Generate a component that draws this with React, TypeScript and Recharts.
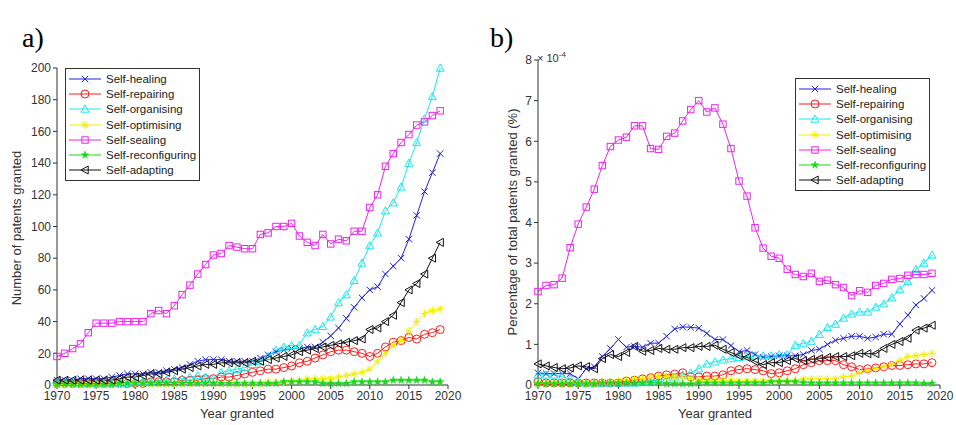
import React from 'react';
import { LineChart, Line, XAxis, YAxis } from 'recharts';

const years = Array.from({ length: 50 }, (_, i) => 1970 + i);
const seriesNames = ['Self-healing', 'Self-repairing', 'Self-organising', 'Self-optimising', 'Self-sealing', 'Self-reconfiguring', 'Self-adapting'];
const colors = ['#1f1fe0', '#ff1a1a', '#16e8f0', '#f0f000', '#ee22ee', '#18d818', '#111111'];
const shapes = ['x', 'o', 'tri', 'ast', 'sq', 'star', 'ltri'];

// Panel a: number of patents granted
const aHealing = [3,3,3,4,4,4,4,5,6,7, 7,7,8,8,9,10,11,13,15,16, 16,16,15,15,15,15,17,19,21,22, 23,23,24,24,27,31,36,42,49,55, 60,62,70,75,80,92,107,122,134,146];
const aRepairing = [1,1,1,1,1,1,1,1,1,1, 1,1,2,2,2,2,3,3,3,4, 4,5,5,6,7,8,9,10,10,11, 12,14,15,17,19,21,22,22,21,20, 18,20,24,27,28,30,29,32,33,35];
const aOrganising = [2,2,2,1,1,1,1,1,1,1, 2,2,2,3,3,4,4,5,6,5, 4,8,9,10,11,13,15,18,22,24, 25,25,33,35,37,43,52,57,66,77, 88,96,110,115,125,140,153,168,182,200];
const aOptimising = [0.5,0.5,0.5,0.5,0.5,0.5,0.5,0.5,0.5,1, 1,1,1,1,1,1,1,1,1,1, 1,1,1,1,1,1,1,2,2,2, 3,3,4,4,4,4,5,6,7,8, 10,15,20,25,28,34,40,45,47,48];
const aSealing = [18,20,23,26,33,39,39,39,40,40, 40,40,45,47,45,50,57,63,70,76, 82,83,88,87,86,86,95,96,100,100, 102,94,90,88,95,89,92,91,97,97, 112,120,138,146,153,158,164,166,170,173];
const aReconf = [0.5,0.5,0.5,0.5,0.5,0.5,0.5,0.5,1,1, 1,1,1,1,1,1,1,1,1,1, 1,1,1,1,1,1,1,1,1,2, 2,2,2,2,1,1,1,1,2,2, 2,2,2,3,3,3,3,3,2,2];
const aAdapting = [3,3,3,3,3,3,3,3,4,5, 5,6,7,7,8,9,10,11,12,13, 13,14,14,14,14,15,15,16,17,18, 19,21,22,23,24,25,26,27,28,29, 35,36,40,44,52,60,64,70,80,90];

// Panel b: percentage of total patents granted (x 1e-4)
const bHealing = [0.3,0.28,0.28,0.28,0.28,0.15,0.4,0.45,0.7,0.9, 1.12,0.93,0.95,0.93,1.03,1.03,1.2,1.38,1.43,1.42, 1.4,1.27,1.12,1.12,0.97,0.82,0.85,0.75,0.68,0.7, 0.72,0.72,0.72,0.75,0.85,0.88,1.0,1.1,1.15,1.2, 1.2,1.15,1.18,1.25,1.25,1.5,1.72,1.97,2.13,2.33];
const bRepairing = [0.08,0.05,0.05,0.05,0.05,0.05,0.05,0.05,0.05,0.05, 0.05,0.1,0.12,0.15,0.18,0.22,0.25,0.27,0.3,0.2, 0.2,0.22,0.22,0.25,0.35,0.38,0.4,0.38,0.35,0.28, 0.3,0.35,0.4,0.5,0.55,0.6,0.6,0.6,0.5,0.45, 0.38,0.4,0.42,0.45,0.48,0.48,0.5,0.52,0.52,0.55];
const bOrganising = [0.25,0.25,0.25,0.2,0.15,0.08,0.05,0.05,0.05,0.05, 0.05,0.05,0.05,0.08,0.1,0.12,0.15,0.2,0.25,0.3, 0.4,0.52,0.57,0.62,0.65,0.68,0.7,0.72,0.72,0.72, 0.75,0.75,0.98,1.02,1.08,1.25,1.42,1.5,1.65,1.75, 1.8,1.8,1.92,2.0,2.15,2.35,2.55,2.85,3.0,3.2];
const bOptimising = [0.05,0.05,0.05,0.05,0.05,0.05,0.05,0.05,0.08,0.08, 0.1,0.12,0.15,0.15,0.18,0.2,0.2,0.2,0.18,0.15, 0.12,0.12,0.12,0.12,0.12,0.1,0.1,0.1,0.1,0.1, 0.12,0.12,0.12,0.15,0.15,0.15,0.15,0.15,0.2,0.22, 0.3,0.35,0.4,0.45,0.5,0.6,0.7,0.72,0.75,0.78];
const bSealing = [2.3,2.45,2.47,2.63,3.38,3.96,4.38,4.82,5.4,5.87, 6.03,6.1,6.38,6.38,5.82,5.8,6.12,6.2,6.5,6.78, 7.0,6.72,6.82,6.42,5.82,5.02,4.65,3.87,3.37,3.17, 3.12,2.85,2.72,2.67,2.75,2.55,2.58,2.47,2.4,2.2, 2.32,2.28,2.45,2.5,2.6,2.62,2.7,2.72,2.72,2.75];
const bReconf = [0.03,0.03,0.03,0.03,0.03,0.03,0.03,0.03,0.05,0.05, 0.05,0.05,0.05,0.05,0.05,0.05,0.03,0.03,0.03,0.03, 0.05,0.05,0.05,0.05,0.05,0.05,0.05,0.05,0.05,0.08, 0.08,0.08,0.08,0.06,0.05,0.05,0.05,0.05,0.05,0.05, 0.05,0.05,0.05,0.05,0.05,0.05,0.05,0.05,0.04,0.04];
const bAdapting = [0.52,0.47,0.43,0.4,0.42,0.47,0.45,0.4,0.65,0.75, 0.7,0.8,0.95,0.83,0.85,0.9,0.88,0.88,0.92,0.92, 0.95,0.95,0.98,0.88,0.8,0.72,0.68,0.58,0.5,0.55, 0.55,0.6,0.65,0.6,0.63,0.65,0.68,0.7,0.7,0.72, 0.78,0.77,0.77,0.9,1.0,1.07,1.15,1.35,1.4,1.47];

const xTicks = [1970, 1975, 1980, 1985, 1990, 1995, 2000, 2005, 2010, 2015, 2020];
const aTicks = [0, 20, 40, 60, 80, 100, 120, 140, 160, 180, 200];
const bTicks = [0, 1, 2, 3, 4, 5, 6, 7, 8];

const build = (arrs: number[][]) =>
  years.map((y, i) => {
    const row: any = { year: y };
    arrs.forEach((a, k) => (row['s' + k] = a[i]));
    return row;
  });
const dataA = build([aHealing, aRepairing, aOrganising, aOptimising, aSealing, aReconf, aAdapting]);
const dataB = build([bHealing, bRepairing, bOrganising, bOptimising, bSealing, bReconf, bAdapting]);

const FONT = '"Liberation Sans", Arial, sans-serif';

function MarkerShape({ cx, cy, shape, color, r = 4 }: any) {
  if (cx == null || cy == null) return null;
  const sp = { stroke: color, fill: 'none', strokeWidth: 1 };
  switch (shape) {
    case 'x':
      return <path d={`M${cx - r * 0.8},${cy - r * 0.8}L${cx + r * 0.8},${cy + r * 0.8}M${cx - r * 0.8},${cy + r * 0.8}L${cx + r * 0.8},${cy - r * 0.8}`} {...sp} />;
    case 'o':
      return <circle cx={cx} cy={cy} r={r} {...sp} />;
    case 'tri':
      return <path d={`M${cx},${cy - r}L${cx + r},${cy + r * 0.8}L${cx - r},${cy + r * 0.8}Z`} {...sp} />;
    case 'ast':
      return <path d={`M${cx - r},${cy}L${cx + r},${cy}M${cx},${cy - r}L${cx},${cy + r}M${cx - r * 0.7},${cy - r * 0.7}L${cx + r * 0.7},${cy + r * 0.7}M${cx - r * 0.7},${cy + r * 0.7}L${cx + r * 0.7},${cy - r * 0.7}`} {...sp} />;
    case 'sq':
      return <rect x={cx - r * 0.8} y={cy - r * 0.8} width={r * 1.6} height={r * 1.6} {...sp} />;
    case 'star': {
      const pts: string[] = [];
      for (let i = 0; i < 10; i++) {
        const rr = i % 2 === 0 ? r : r * 0.4;
        const a = -Math.PI / 2 + (i * Math.PI) / 5;
        pts.push(`${cx + rr * Math.cos(a)},${cy + rr * Math.sin(a)}`);
      }
      return <polygon points={pts.join(' ')} stroke={color} fill={color} strokeWidth={0.5} />;
    }
    case 'ltri':
      return <path d={`M${cx - r},${cy}L${cx + r * 0.8},${cy - r}L${cx + r * 0.8},${cy + r}Z`} {...sp} />;
  }
  return null;
}

function Legend({ left, top }: { left: number; top: number }) {
  return (
    <div style={{ position: 'absolute', left, top, width: 133, border: '1px solid #333', background: '#fff', padding: '2px 0', fontFamily: FONT, fontSize: 11.5, color: '#222' }}>
      {seriesNames.map((n, k) => (
        <div key={n} style={{ display: 'flex', alignItems: 'center', height: 15.3 }}>
          <svg width={38} height={14}>
            <line x1={3} y1={7} x2={35} y2={7} stroke={colors[k]} strokeWidth={1} />
            <MarkerShape cx={19} cy={7} shape={shapes[k]} color={colors[k]} />
          </svg>
          <span style={{ marginLeft: 2 }}>{n}</span>
        </div>
      ))}
    </div>
  );
}

function Panel({ data, width, margin, yTicks, yDomain, ywidth }: any) {
  return (
    <LineChart width={width} height={425} data={data} margin={margin}>
      <XAxis dataKey="year" type="number" domain={[1970, 2020]} ticks={xTicks} interval={0} tick={{ fontSize: 12, fill: '#333', fontFamily: FONT }} stroke="#333" tickSize={4} height={20} />
      <YAxis type="number" domain={yDomain} ticks={yTicks} interval={0} tick={{ fontSize: 12, fill: '#333', fontFamily: FONT }} stroke="#333" tickSize={4} width={ywidth} />
      {seriesNames.map((n, k) => (
        <Line
          key={n}
          dataKey={'s' + k}
          stroke={colors[k]}
          strokeWidth={1}
          isAnimationActive={false}
          dot={(p: any) => <MarkerShape key={p.index} cx={p.cx} cy={p.cy} shape={shapes[k]} color={colors[k]} />}
        />
      ))}
    </LineChart>
  );
}

export default function App() {
  return (
    <div style={{ position: 'absolute', left: 0, top: 0, width: 956, height: 425, background: '#fff', fontFamily: FONT }}>
      <div style={{ position: 'absolute', left: 0, top: 0 }}>
        <Panel data={dataA} width={470} margin={{ top: 68, right: 22, bottom: 20, left: 0 }} yTicks={aTicks} yDomain={[0, 200]} ywidth={57} />
      </div>
      <div style={{ position: 'absolute', left: 470, top: 0 }}>
        <Panel data={dataB} width={486} margin={{ top: 60, right: 16, bottom: 20, left: 0 }} yTicks={bTicks} yDomain={[0, 8]} ywidth={68} />
      </div>
      <Legend left={65} top={68} />
      <Legend left={795} top={78} />
      <div style={{ position: 'absolute', left: 22, top: 22, fontFamily: '"Liberation Serif", serif', fontSize: 28 }}>a)</div>
      <div style={{ position: 'absolute', left: 490, top: 22, fontFamily: '"Liberation Serif", serif', fontSize: 28 }}>b)</div>
      <div style={{ position: 'absolute', left: 200, top: 406, fontSize: 13, color: '#333' }}>Year granted</div>
      <div style={{ position: 'absolute', left: 678, top: 406, fontSize: 13, color: '#333' }}>Year granted</div>
      <div style={{ position: 'absolute', left: 16, top: 228, fontSize: 13, color: '#333', transform: 'translate(-50%,-50%) rotate(-90deg)', whiteSpace: 'nowrap' }}>Number of patents granted</div>
      <div style={{ position: 'absolute', left: 512, top: 222, fontSize: 13, color: '#333', transform: 'translate(-50%,-50%) rotate(-90deg)', whiteSpace: 'nowrap' }}>Percentage of total patents granted (%)</div>
      <div style={{ position: 'absolute', left: 537, top: 50, fontSize: 11, color: '#333' }}>
        × 10<sup style={{ fontSize: 8 }}>-4</sup>
      </div>
    </div>
  );
}
